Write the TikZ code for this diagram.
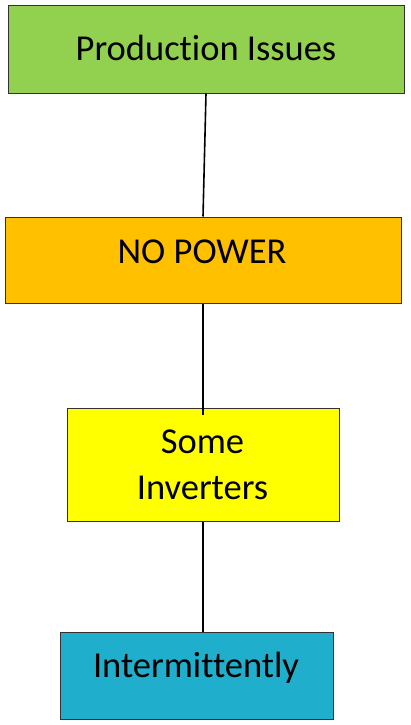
\documentclass[tikz,border=0pt]{standalone}
\usepackage{fontspec}
\setmainfont{Carlito}[Ligatures=NoCommon]
\definecolor{boxgreen}{RGB}{146,208,80}
\definecolor{boxorange}{RGB}{255,192,0}
\definecolor{boxyellow}{RGB}{255,255,0}
\definecolor{boxblue}{RGB}{31,175,205}
\definecolor{edge}{RGB}{50,50,50}
\begin{document}
\begin{tikzpicture}[x=1pt,y=-1pt,
  box/.style={draw=edge,line width=1pt,rectangle,inner sep=0pt},
  label text/.style={font=\fontsize{36.5}{46}\selectfont,inner sep=0pt,align=center,anchor=base},
  conn/.style={draw=black,line width=1.6pt}]
\useasboundingbox (0,0) rectangle (411,725);
\node[box,fill=boxgreen,minimum width=396pt,minimum height=87pt] (g) at (206,49.5) {};
\node[box,fill=boxorange,minimum width=396pt,minimum height=86pt] (o) at (203,260) {};
\node[box,fill=boxyellow,minimum width=272pt,minimum height=113pt] (y) at (203,464.5) {};
\node[box,fill=boxblue,minimum width=273pt,minimum height=87pt] (b) at (196.5,675.5) {};
\node[label text] (gt) at (206,60) {Production Issues};
\node[label text] (ot) at (202,263) {NO POWER};
\node[label text] (yt) at (202.5,499) {Some\\Inverters};
\node[label text] (bt) at (196,677) {Intermittently};
\coordinate (yin) at (203,415);
\draw[conn] (g.south) -- (o.north);
\draw[conn] (o.south) -- (yin);
\draw[conn] (y.south) -- (y.south |- b.north);
\end{tikzpicture}
\end{document}
